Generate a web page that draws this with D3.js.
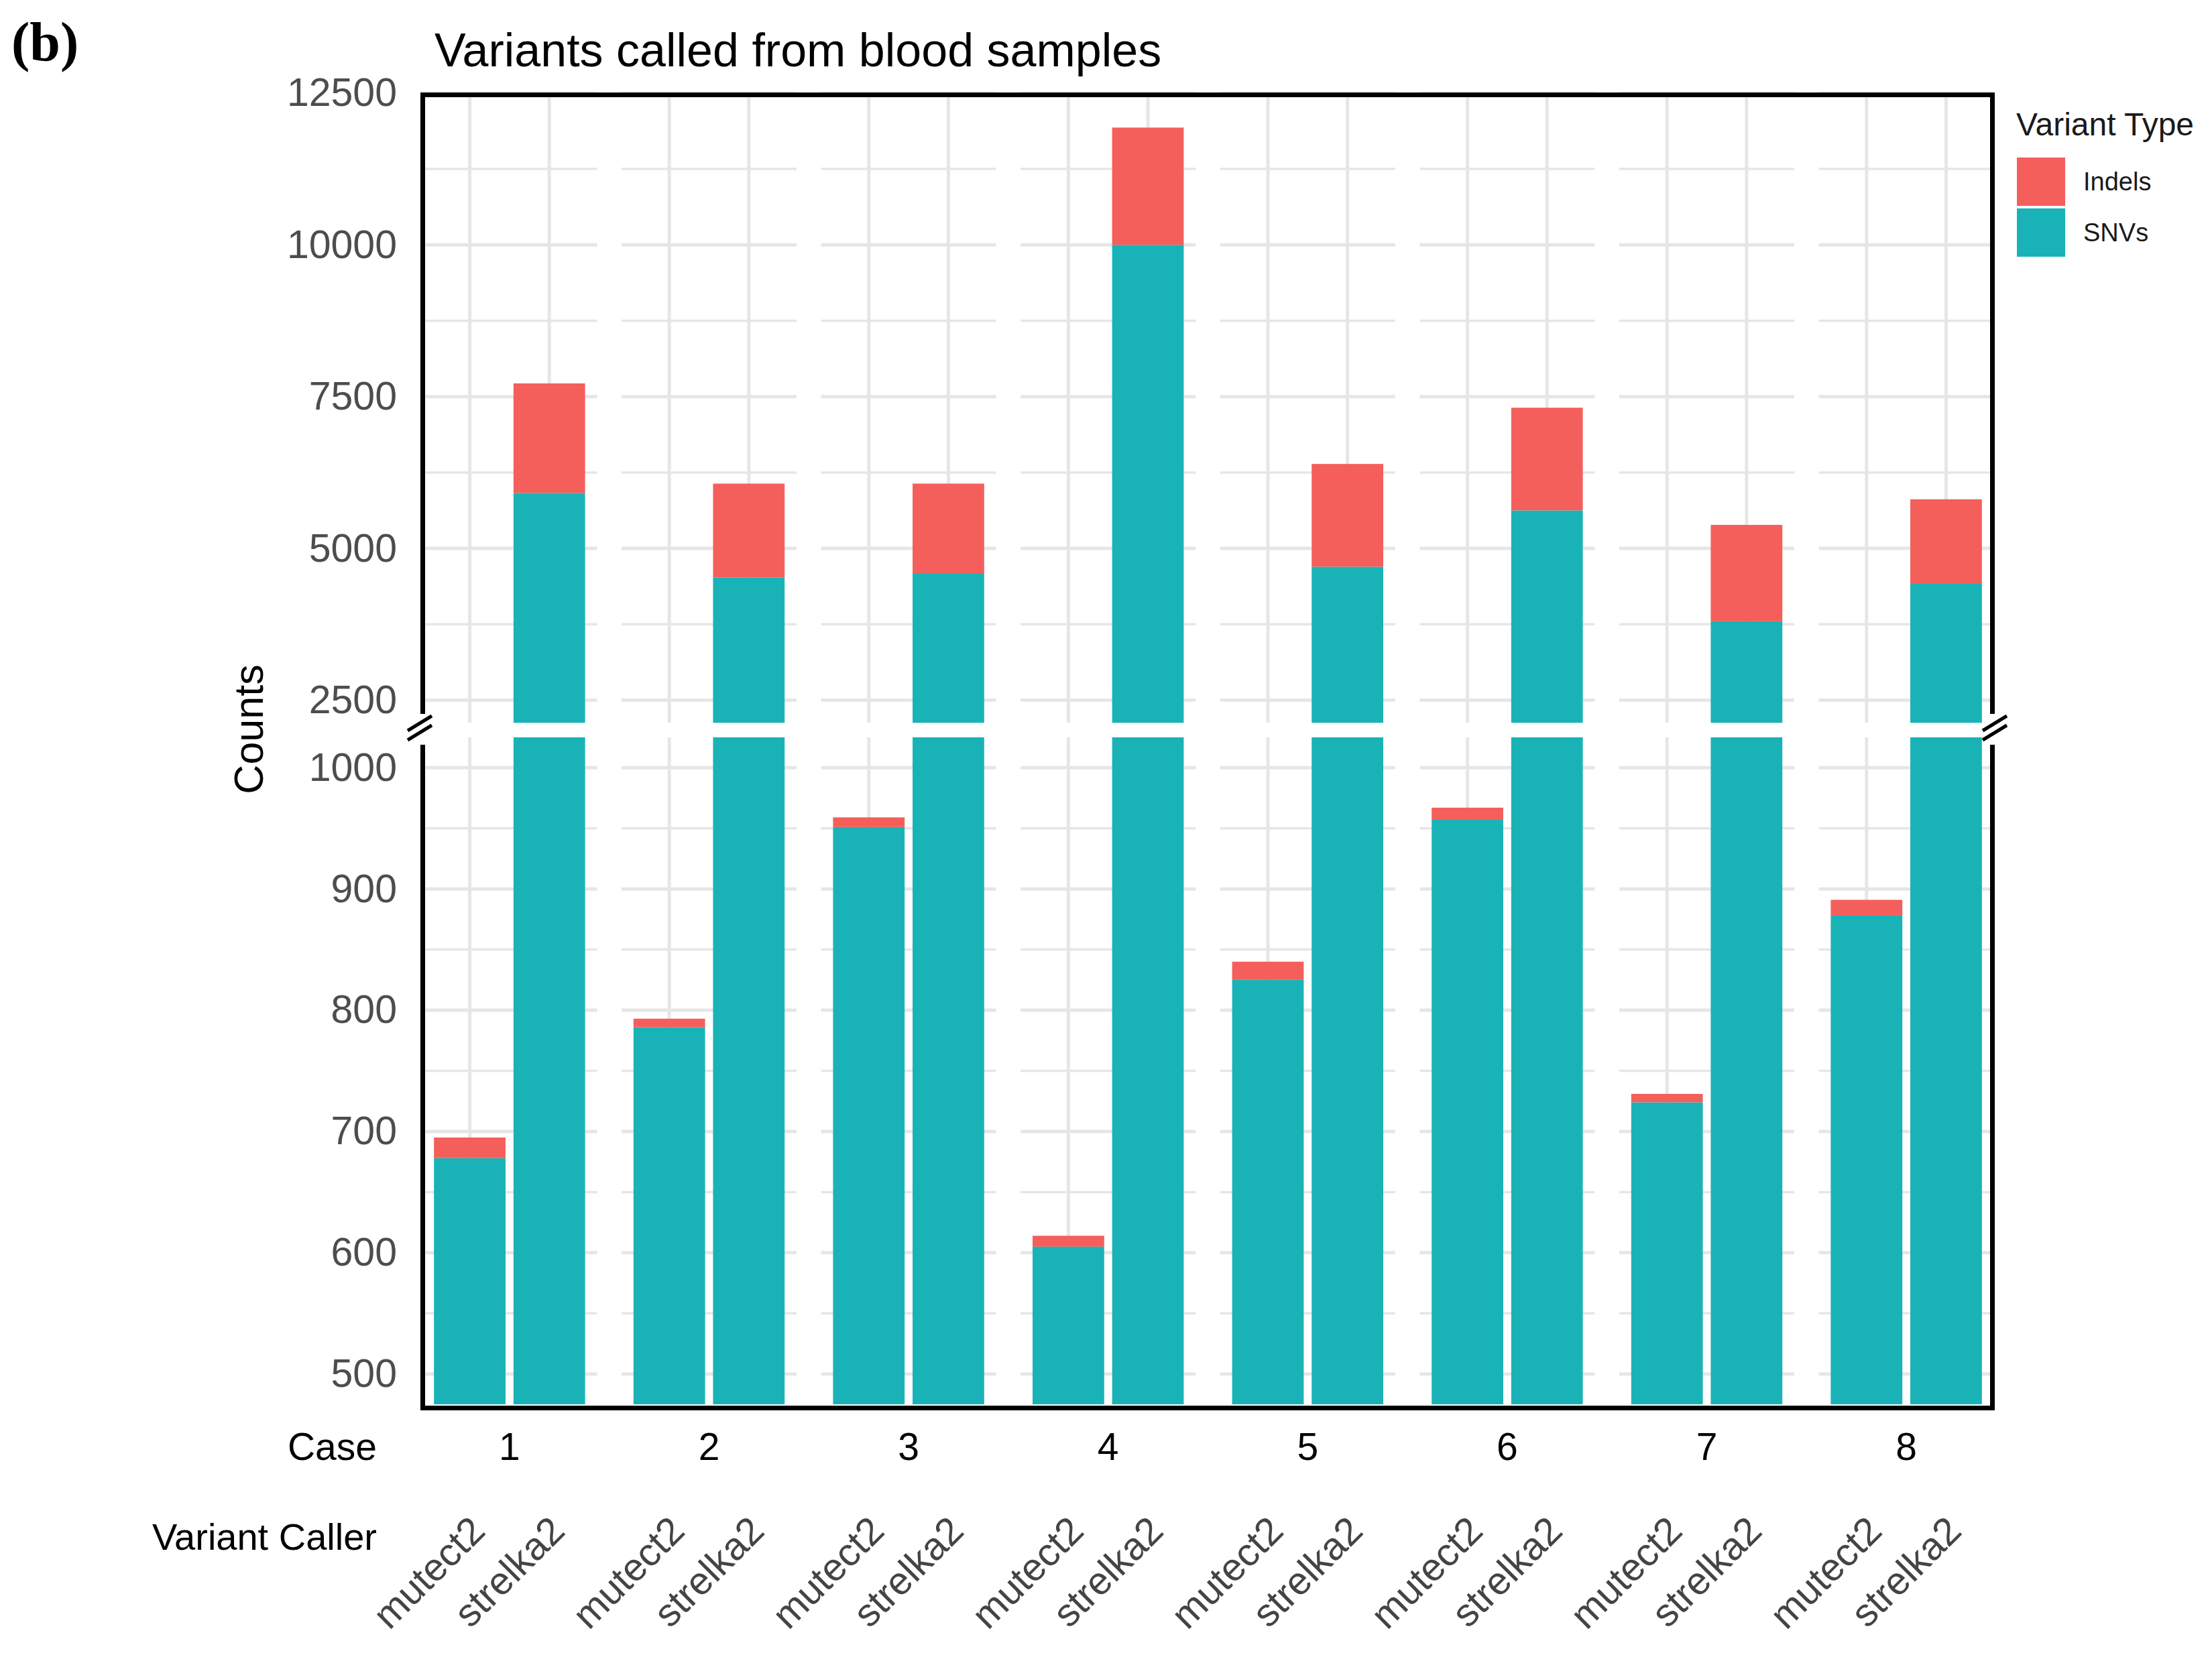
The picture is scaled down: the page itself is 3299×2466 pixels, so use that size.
<!DOCTYPE html>
<html>
<head>
<meta charset="utf-8">
<script src="https://cdn.jsdelivr.net/npm/d3@7"></script>
<style>
  body { margin: 0; background: #fff; }
  text { font-family: "Liberation Sans", Arial, sans-serif; }
</style>
</head>
<body>
<svg id="chart" width="3299" height="2466"></svg>
<script>
// values
const cases = ["1", "2", "3", "4", "5", "6", "7", "8"];
const callers = ["mutect2", "strelka2"];
const variantTypes = ["SNVs", "Indels"];
const snvMutect2 = [678, 786, 951, 605, 825, 957, 724, 878];
const indelMutect2 = [17, 7, 8, 9, 15, 10, 7, 13];
const snvStrelka2 = [5914, 4522, 4592, 10000, 4698, 5626, 3799, 4416];
const indelStrelka2 = [1804, 1545, 1475, 1932, 1693, 1691, 1588, 1393];
const topTicks = [2500, 5000, 7500, 10000, 12500];
const topMinor = [3750, 6250, 8750, 11250];
const bottomTicks = [500, 600, 700, 800, 900, 1000];
const bottomMinor = [550, 650, 750, 850, 950];

const colors = { SNVs: "#19B3B7", Indels: "#F45F5B" };
const gridColor = "#E6E6E6";

const rows = [];
cases.forEach((c, i) => {
  rows.push({ case: c, caller: "mutect2", SNVs: snvMutect2[i], Indels: indelMutect2[i] });
  rows.push({ case: c, caller: "strelka2", SNVs: snvStrelka2[i], Indels: indelStrelka2[i] });
});
const stacked = d3.stack().keys(variantTypes)(rows);

const svg = d3.select("#chart");

const xCase = d3.scaleBand().domain(cases).range([629.4, 2973.6]).paddingInner(0.123).paddingOuter(0);
const xCaller = d3.scaleBand().domain(callers).range([0, xCase.bandwidth()]).paddingInner(0.1).paddingOuter(0.15);

const panels = [
  { scale: d3.scaleLinear().domain([2127, 12500]).range([1078.3, 138.9]), ticks: topTicks, minor: topMinor },
  { scale: d3.scaleLinear().domain([475, 1025]).range([2095, 1100]), ticks: bottomTicks, minor: bottomMinor }
];

panels.forEach(p => {
  const y = p.scale;
  const [d0, d1] = y.domain();
  const g = svg.append("g");

  // grid, one set per facet
  cases.forEach(c => {
    const x0 = xCase(c), x1 = x0 + xCase.bandwidth();
    g.selectAll(null).data(p.minor).enter().append("line")
      .attr("x1", x0).attr("x2", x1)
      .attr("y1", d => y(d)).attr("y2", d => y(d))
      .attr("stroke", gridColor).attr("stroke-width", 3.5);
    g.selectAll(null).data(p.ticks).enter().append("line")
      .attr("x1", x0).attr("x2", x1)
      .attr("y1", d => y(d)).attr("y2", d => y(d))
      .attr("stroke", gridColor).attr("stroke-width", 5);
    g.selectAll(null).data(callers).enter().append("line")
      .attr("x1", d => x0 + xCaller(d) + xCaller.bandwidth() / 2)
      .attr("x2", d => x0 + xCaller(d) + xCaller.bandwidth() / 2)
      .attr("y1", y(d0)).attr("y2", y(d1))
      .attr("stroke", gridColor).attr("stroke-width", 5);
  });

  // bars, clipped to this panel's range
  stacked.forEach(layer => {
    g.selectAll(null).data(layer.filter(s => Math.min(s[1], d1) > Math.max(s[0], d0)))
      .enter().append("rect")
      .attr("x", s => xCase(s.data.case) + xCaller(s.data.caller))
      .attr("width", xCaller.bandwidth())
      .attr("y", s => y(Math.min(s[1], d1)))
      .attr("height", s => y(Math.max(s[0], d0)) - y(Math.min(s[1], d1)))
      .attr("fill", colors[layer.key]);
  });

  // y axis labels
  const ax = svg.append("g")
    .attr("transform", "translate(630,0)")
    .call(d3.axisLeft(y).tickValues(p.ticks).tickSize(0).tickPadding(38).tickFormat(d3.format("d")));
  ax.select(".domain").remove();
  ax.selectAll("text")
    .attr("font-size", 59)
    .attr("fill", "#4D4D4D")
    .style("font-family", "'Liberation Sans', Arial, sans-serif");
});

// border with break
const bw = 7;
svg.append("path")
  .attr("d", "M630.5,1065 L630.5,141.5 L2971.5,141.5 L2971.5,1065")
  .attr("fill", "none").attr("stroke", "#000").attr("stroke-width", bw);
svg.append("path")
  .attr("d", "M630.5,1111 L630.5,2100.5 L2971.5,2100.5 L2971.5,1111")
  .attr("fill", "none").attr("stroke", "#000").attr("stroke-width", bw);
[626, 2975].forEach(cx => {
  [1079, 1093].forEach(cy => {
    svg.append("line")
      .attr("x1", cx - 18).attr("y1", cy + 11)
      .attr("x2", cx + 18).attr("y2", cy - 11)
      .attr("stroke", "#000").attr("stroke-width", 5);
  });
});

// case axis
const caseAxis = svg.append("g")
  .attr("transform", "translate(0,2100)")
  .call(d3.axisBottom(xCase).tickSize(0));
caseAxis.select(".domain").remove();
caseAxis.selectAll("text")
  .attr("y", 78).attr("dy", null)
  .attr("font-size", 57)
  .attr("fill", "#000")
  .style("font-family", "'Liberation Sans', Arial, sans-serif");

svg.append("text")
  .attr("x", 562).attr("y", 2178)
  .attr("text-anchor", "end")
  .attr("font-size", 57)
  .text("Case");

svg.append("text")
  .attr("x", 562).attr("y", 2312)
  .attr("text-anchor", "end")
  .attr("font-size", 56)
  .text("Variant Caller");

// caller labels, rotated
cases.forEach(c => {
  svg.selectAll(null).data(callers).enter().append("text")
    .attr("transform", d => {
      const x = xCase(c) + xCaller(d) + xCaller.bandwidth() / 2 + 26;
      return `translate(${x},2287) rotate(-45)`;
    })
    .attr("text-anchor", "end")
    .attr("font-size", 58)
    .attr("fill", "#444444")
    .text(d => d);
});

// y title
svg.append("text")
  .attr("transform", "translate(392,1088) rotate(-90)")
  .attr("text-anchor", "middle")
  .attr("font-size", 61)
  .text("Counts");

// title and panel tag
svg.append("text")
  .attr("x", 648).attr("y", 99)
  .attr("font-size", 70)
  .text("Variants called from blood samples");

svg.append("text")
  .attr("x", 17).attr("y", 90)
  .attr("font-size", 82)
  .attr("font-weight", "bold")
  .style("font-family", "'Liberation Serif', 'Times New Roman', serif")
  .text("(b)");

// legend
const legend = svg.append("g");
legend.append("text")
  .attr("x", 3007).attr("y", 202)
  .attr("font-size", 48)
  .attr("fill", "#1A1A1A")
  .text("Variant Type");
const legendKeys = ["Indels", "SNVs"];
const ly = d3.scaleBand().domain(legendKeys).range([235, 383]).paddingInner(0.05);
legend.selectAll("rect").data(legendKeys).enter().append("rect")
  .attr("x", 3008).attr("y", d => ly(d))
  .attr("width", 72).attr("height", ly.bandwidth())
  .attr("fill", d => colors[d]);
legend.selectAll("text.key").data(legendKeys).enter().append("text")
  .attr("class", "key")
  .attr("x", 3107).attr("y", d => ly(d) + ly.bandwidth() / 2 + 13)
  .attr("font-size", 38)
  .attr("fill", "#1A1A1A")
  .text(d => d);
</script>
</body>
</html>
